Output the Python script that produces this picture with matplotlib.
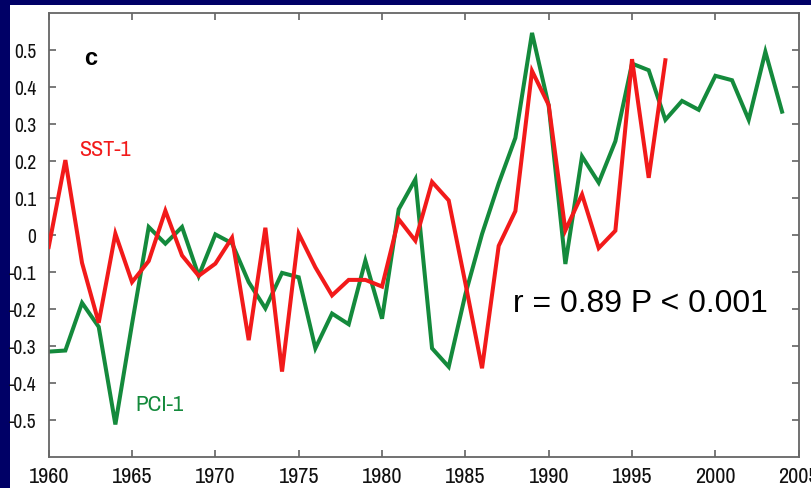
import matplotlib
matplotlib.use("Agg")
import matplotlib.pyplot as plt
from matplotlib.patches import Rectangle
from matplotlib.ticker import FuncFormatter, MultipleLocator

plt.rcParams["axes.unicode_minus"] = False

# Annual index values
years_sst = list(range(1960, 1998))
sst1 = [-0.032, 0.203, -0.075, -0.237, 0.004, -0.127, -0.070, 0.066, -0.055, -0.110,
        -0.077, -0.007, -0.284, 0.020, -0.369, 0.004, -0.087, -0.163, -0.121, -0.121,
        -0.139, 0.043, -0.015, 0.144, 0.094, -0.130, -0.360, -0.029, 0.065, 0.444,
        0.352, 0.013, 0.110, -0.035, 0.012, 0.476, 0.155, 0.473]

years_pci = list(range(1960, 2005))
pci1 = [-0.315, -0.312, -0.183, -0.248, -0.512, -0.240, 0.022, -0.023, 0.022, -0.110,
        0.002, -0.022, -0.127, -0.198, -0.102, -0.114, -0.306, -0.212, -0.241, -0.069,
        -0.226, 0.070, 0.151, -0.306, -0.356, -0.160, 0.003, 0.140, 0.263, 0.547,
        0.350, -0.078, 0.213, 0.142, 0.254, 0.464, 0.446, 0.312, 0.363, 0.339,
        0.431, 0.419, 0.312, 0.496, 0.334]

panel_label = "c"
sst_label = "SST-1"
pci_label = "PCI-1"
stats_label = "r = 0.89 P < 0.001"

NAVY = "#000066"
RED = "#F21A1A"
GREEN = "#148A3C"
narrow = ["Archivo Narrow", "Liberation Sans", "DejaVu Sans"]

fig = plt.figure(figsize=(8.12, 4.88), dpi=100, facecolor=NAVY)
fig.patches.append(Rectangle((10 / 812, 0), 1, 1 - 5 / 488, transform=fig.transFigure,
                             facecolor="white", edgecolor="none", zorder=-10))

ax = fig.add_axes([48.7 / 812, 1 - 457 / 488, 750 / 812, (457 - 13.3) / 488])
ax.set_facecolor("white")

ax.plot(years_sst, sst1, color=RED, lw=2.9, solid_joinstyle="miter", zorder=3)
ax.plot(years_pci, pci1, color=GREEN, lw=2.9, solid_joinstyle="miter", zorder=2)

ax.set_xlim(1960, 2005)
ax.set_ylim(-0.6, 0.6)
ax.xaxis.set_major_locator(MultipleLocator(5))
ax.set_yticks([0.5, 0.4, 0.3, 0.2, 0.1, 0, -0.1, -0.2, -0.3, -0.4, -0.5])
ax.yaxis.set_major_formatter(FuncFormatter(lambda v, p: "0" if abs(v) < 1e-9 else f"{v:.1f}"))

ax.tick_params(direction="in", length=5, width=1.1, color="#555555",
               top=True, right=True)
ax.tick_params(axis="y", pad=9, labelsize=14)
ax.tick_params(axis="x", pad=7, labelsize=16)
for lab in ax.get_xticklabels() + ax.get_yticklabels():
    lab.set_family(narrow)
    lab.set_color("#111111")
for sp in ax.spines.values():
    sp.set_color("#666666")
    sp.set_linewidth(1.3)

ax.text(1962.5, 0.479, panel_label, fontsize=17, fontweight="bold",
        ha="center", va="center", family=["Liberation Sans", "DejaVu Sans"])
ax.text(1961.8, 0.231, sst_label, fontsize=16, color=RED, ha="left", va="center",
        family=narrow)
ax.text(1965.2, -0.459, pci_label, fontsize=16.5, color=GREEN, ha="left", va="center",
        family=narrow)
ax.text(1987.85, -0.185, stats_label, fontsize=23, color="black", ha="left",
        va="center", family=["Liberation Sans", "DejaVu Sans"])

fig.savefig("out.png", dpi=100, facecolor=NAVY)
